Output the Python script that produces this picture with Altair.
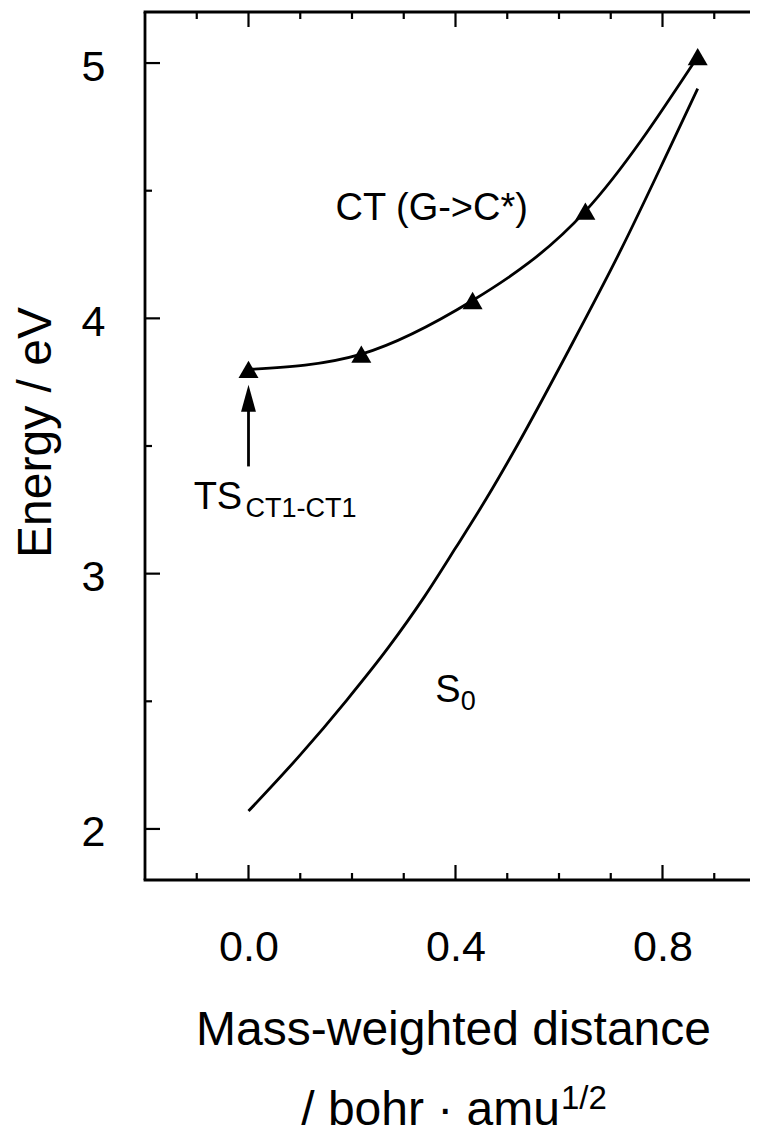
import altair as alt
import pandas as pd

# ---- data ----
ct_x = [0.0, 0.218, 0.433, 0.651, 0.868]
ct_y = [3.80, 3.86, 4.07, 4.42, 5.025]

s0_x = [0.0, 0.10, 0.19, 0.27, 0.34, 0.40, 0.46, 0.52, 0.62, 0.72, 0.81, 0.868]
s0_y = [2.07, 2.29, 2.505, 2.71, 2.91, 3.10, 3.295, 3.505, 3.88, 4.27, 4.65, 4.90]

x_major = [0.0, 0.4, 0.8]
x_minor = [-0.1, 0.1, 0.2, 0.3, 0.5, 0.6, 0.7, 0.9]
y_major = [2, 3, 4, 5]
y_minor = [2.5, 3.5, 4.5]

# arrow pointing at the transition state
arrow_x = [0.0]
arrow_tail = [3.42]
arrow_tip = [3.74]

# in-plot labels (data coordinates)
ct_label = ["CT (G->C*)"]
ct_label_x = [0.354]
ct_label_y = [4.386]
lab_text = ["TS", "S"]
lab_x = [-0.106, 0.361]
lab_y = [3.252, 2.497]
sub_text = ["CT1-CT1", "0"]
sub_x = [-0.006, 0.410]
sub_y = [3.220, 2.465]

FULL_W = 621          # width that the x range [-0.2, 1.0] spans
W, H = 605, 868       # visible part (the right edge is cut by the page)
FONT = "Liberation Sans"

ct = pd.DataFrame({"x": ct_x, "y": ct_y})
s0 = pd.DataFrame({"x": s0_x, "y": s0_y})
xmaj = pd.DataFrame({"v": x_major})
xmin = pd.DataFrame({"v": x_minor})
ymaj = pd.DataFrame({"v": y_major})
ymin = pd.DataFrame({"v": y_minor})
arrow = pd.DataFrame({"x": arrow_x, "y": arrow_tail, "tip": arrow_tip})
ctlab = pd.DataFrame({"t": ct_label, "x": ct_label_x, "y": ct_label_y})
labs = pd.DataFrame({"t": lab_text, "x": lab_x, "y": lab_y})
subs = pd.DataFrame({"t": sub_text, "x": sub_x, "y": sub_y})

xs = alt.Scale(domain=[-0.2, 1.0], range=[0, FULL_W], nice=False, zero=False)
ys = alt.Scale(domain=[1.8, 5.2], nice=False, zero=False)

x_axis = alt.Axis(
    values=x_major, format=".1f", ticks=False, domain=False, grid=False,
    labelFont=FONT, labelFontSize=43, labelPadding=46, labelColor="black",
    labelFlush=False, labelOverlap=False,
    title="Mass-weighted distance", titleFont=FONT, titleFontSize=48,
    titleFontWeight="normal", titleColor="black", titleX=308, titleY=164,
    titleBaseline="alphabetic", titleAlign="center",
)
y_axis = alt.Axis(
    values=y_major, format="d", ticks=False, domain=False, grid=False,
    labelFont=FONT, labelFontSize=43, labelPadding=40, labelColor="black",
    labelOverlap=False, labelOffset=4,
    title="Energy / eV", titleFont=FONT, titleFontSize=48,
    titleFontWeight="normal", titleColor="black", titleAngle=270,
    titleX=-95, titleY=420, titleBaseline="alphabetic", titleAlign="center",
)

LW = 2.8
s0_line = alt.Chart(s0).mark_line(
    color="black", strokeWidth=LW, interpolate="monotone"
).encode(
    x=alt.X("x:Q", scale=xs, axis=x_axis),
    y=alt.Y("y:Q", scale=ys, axis=y_axis),
)

ct_line = alt.Chart(ct).mark_line(
    color="black", strokeWidth=LW, interpolate="natural"
).encode(x=alt.X("x:Q", scale=xs), y=alt.Y("y:Q", scale=ys))

ct_pts = alt.Chart(ct).mark_point(
    shape="triangle-up", filled=True, size=400, color="black", opacity=1
).encode(x=alt.X("x:Q", scale=xs), y=alt.Y("y:Q", scale=ys))

shaft = alt.Chart(arrow).transform_calculate(
    top="datum.tip - 0.05"
).mark_rule(color="black", strokeWidth=LW).encode(
    x=alt.X("x:Q", scale=xs), y=alt.Y("y:Q", scale=ys), y2="top:Q"
)
head = alt.Chart(arrow).mark_point(
    shape="M0,0L0.55,2L-0.55,2Z", filled=True, size=729, color="black", opacity=1
).encode(x=alt.X("x:Q", scale=xs), y=alt.Y("tip:Q", scale=ys))

ct_text = alt.Chart(ctlab).mark_text(
    font=FONT, fontSize=38, color="black", baseline="alphabetic", align="center"
).encode(x=alt.X("x:Q", scale=xs), y=alt.Y("y:Q", scale=ys), text="t:N")
labels = alt.Chart(labs).mark_text(
    font=FONT, fontSize=38, color="black", baseline="alphabetic", align="left"
).encode(x=alt.X("x:Q", scale=xs), y=alt.Y("y:Q", scale=ys), text="t:N")
sublabels = alt.Chart(subs).mark_text(
    font=FONT, fontSize=27, color="black", baseline="alphabetic", align="left"
).encode(x=alt.X("x:Q", scale=xs), y=alt.Y("y:Q", scale=ys), text="t:N")

# unit line of the x-axis title (second line with a superscript)
unit = alt.Chart(pd.DataFrame({"t": ["/ bohr · amu"]})).mark_text(
    font=FONT, fontSize=48, color="black", baseline="alphabetic", align="right"
).encode(x=alt.value(415), y=alt.value(1113), text="t:N")
unit_sup = alt.Chart(pd.DataFrame({"t": ["1/2"]})).mark_text(
    font=FONT, fontSize=33, color="black", baseline="alphabetic", align="left"
).encode(x=alt.value(416), y=alt.value(1097), text="t:N")

# frame (left, top, bottom; the right side lies beyond the page edge)
FW = 2.8
one = pd.DataFrame({"k": [0]})
frame = [
    alt.Chart(one).mark_rule(color="black", strokeWidth=FW).encode(
        x=alt.value(0), y=alt.value(0), y2=alt.value(H)),
    alt.Chart(one).mark_rule(color="black", strokeWidth=FW).encode(
        x=alt.value(-1.4), x2=alt.value(FULL_W), y=alt.value(0)),
    alt.Chart(one).mark_rule(color="black", strokeWidth=FW).encode(
        x=alt.value(-1.4), x2=alt.value(FULL_W), y=alt.value(H)),
]

# inward ticks
TW = 2.2
def xticks(df, length):
    bot = alt.Chart(df).mark_rule(color="black", strokeWidth=TW).encode(
        x=alt.X("v:Q", scale=xs), y=alt.value(H), y2=alt.value(H - length))
    top = alt.Chart(df).mark_rule(color="black", strokeWidth=TW).encode(
        x=alt.X("v:Q", scale=xs), y=alt.value(0), y2=alt.value(length))
    return [bot, top]

def yticks(df, length):
    lft = alt.Chart(df).mark_rule(color="black", strokeWidth=TW).encode(
        y=alt.Y("v:Q", scale=ys), x=alt.value(0), x2=alt.value(length))
    rgt = alt.Chart(df).mark_rule(color="black", strokeWidth=TW).encode(
        y=alt.Y("v:Q", scale=ys), x=alt.value(FULL_W), x2=alt.value(FULL_W - length))
    return [lft, rgt]

tick_layers = xticks(xmaj, 15) + xticks(xmin, 7) + yticks(ymaj, 15) + yticks(ymin, 7)

chart = alt.layer(
    s0_line, *frame, *tick_layers, ct_line, ct_pts, shaft, head,
    ct_text, labels, sublabels, unit, unit_sup
).properties(
    width=W, height=H,
    autosize=alt.AutoSizeParams(type="none"),
    padding={"left": 137, "top": 4, "right": 0, "bottom": 254},
    background="white",
).configure_view(
    stroke=None
)

chart.save("out.html", embed_options={"renderer": "svg", "actions": False})
